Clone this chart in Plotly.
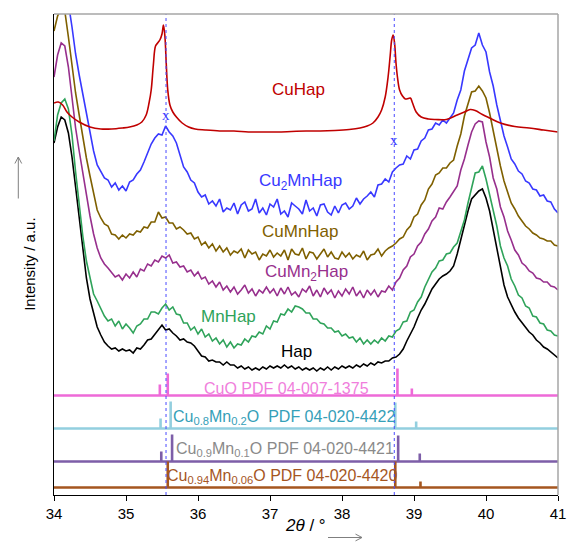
import plotly.graph_objects as go

# ---------------- data ----------------
# common 2theta grid for the measured patterns (0.05 deg step)
two_theta = [round(34 + 0.05 * i, 2) for i in range(141)]

hap = [352, 368, 378, 375, 362, 338, 308, 276, 243, 217, 196, 181, 168, 160, 153, 149, 146, 147, 144, 146,
       144, 145, 142, 147, 146, 150, 155, 156, 161, 165, 170, 165, 166, 162, 159, 155, 156, 153, 152, 149,
       144, 139, 138, 134, 135, 133, 133, 130, 133, 130, 130, 127, 129, 126, 128, 125, 127, 125, 128, 126,
       129, 127, 129, 127, 130, 127, 129, 126, 128, 125, 127, 125, 127, 124, 127, 125, 128, 125, 128, 126,
       129, 127, 129, 127, 130, 128, 131, 129, 132, 130, 133, 132, 134, 134, 137, 138, 141, 146, 154, 161,
       168, 177, 185, 191, 199, 206, 211, 216, 219, 221, 224, 229, 241, 256, 270, 284, 296, 300, 304, 306,
       297, 284, 266, 249, 229, 210, 198, 190, 183, 177, 172, 167, 163, 160, 155, 152, 148, 146, 143, 140,
       137]

mnhap = [354, 380, 392, 396, 386, 360, 323, 290, 259, 234, 219, 201, 194, 186, 179, 174, 176, 169, 174, 166,
         171, 167, 162, 169, 171, 176, 176, 183, 183, 181, 187, 191, 185, 188, 181, 180, 172, 172, 165, 168,
         161, 166, 158, 161, 154, 157, 151, 155, 148, 153, 147, 151, 150, 156, 153, 159, 158, 163, 161, 169,
         166, 174, 173, 181, 180, 186, 183, 189, 188, 186, 182, 182, 176, 176, 172, 171, 167, 167, 163, 164,
         159, 161, 157, 158, 153, 157, 151, 155, 151, 155, 152, 157, 154, 159, 158, 164, 166, 173, 174, 183,
         185, 193, 198, 208, 215, 223, 227, 234, 235, 241, 242, 248, 252, 264, 275, 292, 308, 322, 323, 329,
         316, 301, 284, 269, 249, 237, 229, 216, 209, 200, 197, 189, 187, 179, 178, 172, 171, 165, 164, 160,
         159]

cumn2hap = [418, 440, 452, 449, 428, 398, 367, 344, 322, 297, 279, 261, 247, 237, 231, 227, 223, 218, 220, 215,
            221, 217, 223, 218, 226, 224, 231, 229, 235, 233, 239, 237, 240, 232, 233, 228, 229, 223, 225, 219,
            223, 216, 218, 211, 214, 208, 213, 205, 209, 203, 208, 201, 205, 210, 202, 206, 199, 205, 202, 208,
            202, 206, 199, 207, 201, 208, 200, 203, 198, 206, 203, 209, 199, 205, 198, 207, 201, 205, 197, 204,
            199, 206, 201, 208, 199, 204, 197, 205, 200, 205, 198, 204, 203, 209, 205, 213, 217, 225, 229, 238,
            241, 249, 253, 261, 266, 274, 278, 287, 286, 293, 298, 304, 309, 325, 336, 350, 363, 371, 374, 373,
            353, 338, 317, 306, 288, 278, 264, 255, 245, 240, 232, 229, 224, 222, 217, 216, 213, 213, 209, 208,
            205]

cumnhap = [464, 479, 486, 484, 458, 428, 402, 380, 358, 337, 319, 301, 285, 277, 271, 269, 261, 260, 256, 260,
           257, 261, 260, 264, 263, 268, 267, 273, 273, 283, 277, 278, 272, 272, 266, 268, 265, 261, 262, 256,
           258, 250, 253, 247, 251, 244, 249, 243, 247, 240, 244, 242, 246, 237, 245, 241, 243, 235, 241, 239,
           245, 238, 242, 239, 245, 235, 246, 241, 240, 247, 236, 243, 242, 236, 241, 246, 238, 243, 237, 236,
           243, 238, 242, 236, 240, 238, 244, 235, 240, 241, 246, 239, 244, 247, 249, 252, 256, 258, 265, 269,
           278, 281, 290, 295, 306, 311, 320, 322, 327, 327, 332, 335, 349, 361, 379, 391, 403, 404, 409, 404,
           397, 382, 364, 346, 329, 314, 303, 292, 286, 279, 274, 269, 266, 262, 260, 257, 256, 254, 254, 250,
           249]

cu2mnhap = [560, 548, 530, 512, 492, 468, 441, 420, 401, 384, 362, 344, 330, 323, 317, 315, 308, 312, 305, 309,
            304, 313, 315, 321, 325, 333, 342, 351, 357, 361, 360, 369, 363, 359, 352, 340, 328, 323, 315, 312,
            303, 298, 300, 291, 294, 289, 296, 283, 287, 285, 292, 281, 290, 293, 284, 286, 296, 282, 287, 280,
            291, 288, 296, 281, 284, 278, 292, 289, 286, 281, 295, 284, 287, 279, 290, 291, 283, 280, 289, 282,
            290, 292, 286, 289, 297, 291, 296, 299, 303, 298, 310, 311, 316, 313, 323, 327, 330, 331, 339, 336,
            345, 346, 354, 357, 365, 366, 372, 370, 375, 372, 377, 382, 395, 405, 424, 435, 447, 450, 462, 450,
            443, 423, 409, 390, 375, 359, 348, 336, 331, 324, 321, 314, 312, 306, 305, 299, 300, 294, 293, 286,
            282]

cuhap_x = [34.0, 34.06, 34.12, 34.18, 34.25, 34.35, 34.5, 34.65, 34.8, 34.95, 35.05, 35.15, 35.22, 35.28, 35.32,
           35.35, 35.38, 35.41, 35.44, 35.47, 35.5, 35.52, 35.54, 35.56, 35.58, 35.61, 35.65, 35.7, 35.78, 35.87,
           35.96, 36.1, 36.3, 36.5, 36.7, 36.9, 37.1, 37.3, 37.5, 37.7, 37.9, 38.1, 38.25, 38.35, 38.43, 38.5,
           38.55, 38.6, 38.64, 38.67, 38.69, 38.71, 38.73, 38.75, 38.77, 38.8, 38.84, 38.88, 38.92, 38.95, 38.98,
           39.03, 39.1, 39.2, 39.3, 39.45, 39.6, 39.7, 39.78, 39.85, 39.95, 40.05, 40.2, 40.4, 40.6, 40.8, 41.0]
cuhap = [392, 393, 390, 383, 378, 373, 368, 366, 366, 367, 368, 370, 373, 380, 392, 405, 430, 449, 452, 455,
         461, 470, 459, 430, 405, 390, 383, 378, 372, 368, 366, 365, 364, 364, 363, 363, 363, 363.5, 364, 364,
         364.5, 365.5, 367, 369, 372, 378, 385, 398, 418, 440, 455, 460, 452, 432, 418, 405, 399, 396, 396.5, 397,
         392, 383, 378, 376, 375.5, 375.5, 380, 383, 385.5, 384.5, 380.5, 377, 372, 368.5, 367, 365, 363]

# reference patterns (stick positions, stick heights, baseline offset)
cuo_pos, cuo_h, cuo_base = [35.47, 35.58, 38.77, 38.97], [11, 22, 27, 7], 99.5
m08_pos, m08_h, m08_base = [35.48, 35.62, 38.74, 39.03], [10, 27, 26, 7], 66.5
m09_pos, m09_h, m09_base = [35.49, 35.64, 38.78, 39.08], [10, 27, 26, 8], 33.5
m094_pos, m094_h, m094_base = [35.58, 38.74, 39.09], [26, 26, 6], 7.5

marker_lines = [35.556, 38.726]
marker_y = [380, 355]

x_ticks = [34, 35, 36, 37, 38, 39, 40, 41]

# ---------------- figure ----------------
FONT = "Liberation Sans, Arial, sans-serif"
fig = go.Figure()


def sticks(pos, h, base):
    xs, ys = [34.0], [base]
    for p, hh in zip(pos, h):
        xs += [p, p, p]
        ys += [base, base + hh, base]
    xs.append(41.0)
    ys.append(base)
    return xs, ys


for pos, h, base, col in [(cuo_pos, cuo_h, cuo_base, "#ee6ad8"),
                          (m08_pos, m08_h, m08_base, "#93cfdf"),
                          (m09_pos, m09_h, m09_base, "#7d5ea8"),
                          (m094_pos, m094_h, m094_base, "#a5561f")]:
    xs, ys = sticks(pos, h, base)
    fig.add_trace(go.Scatter(x=xs, y=ys, mode="lines", line=dict(color=col, width=2.6),
                             hoverinfo="skip", showlegend=False))

for ys, col in [(hap, "#000000"), (mnhap, "#2fa35a"), (cumn2hap, "#972f8d"),
                (cumnhap, "#7f6000"), (cu2mnhap, "#3838ff")]:
    fig.add_trace(go.Scatter(x=two_theta, y=ys, mode="lines", line=dict(color=col, width=1.6),
                             showlegend=False))
fig.add_trace(go.Scatter(x=cuhap_x, y=cuhap, mode="lines", line=dict(color="#c00000", width=1.6),
                         line_shape="spline", showlegend=False))

labels = [
    ("CuHap", 37.40, 405.5, "#c00000", 17),
    ("Cu<sub>2</sub>MnHap", 37.43, 313.5, "#3838ff", 17),
    ("CuMnHap", 37.42, 263.5, "#7f6000", 17),
    ("CuMn<sub>2</sub>Hap", 37.50, 222, "#972f8d", 17),
    ("MnHap", 36.43, 178.5, "#2fa35a", 17),
    ("Hap", 37.37, 143.5, "#000000", 17),
    ("CuO PDF 04-007-1375", 37.23, 107, "#f07edc", 16),
    ("Cu<sub>0.8</sub>Mn<sub>0.2</sub>O  PDF 04-020-4422", 37.20, 78, "#35a0b8", 16),
    ("Cu<sub>0.9</sub>Mn<sub>0.1</sub>O PDF 04-020-4421", 37.21, 46, "#8a8a8a", 16),
    ("Cu<sub>0.94</sub>Mn<sub>0.06</sub>O PDF 04-020-4420", 37.17, 18.5, "#a5561f", 16),
]
for txt, x, y, col, sz in labels:
    fig.add_annotation(x=x, y=y, text=txt, showarrow=False, xanchor="center", yanchor="middle",
                       font=dict(family=FONT, size=sz, color=col))

for x, y in zip(marker_lines, marker_y):
    fig.add_shape(type="line", x0=x, x1=x, y0=0, y1=1, yref="paper",
                  line=dict(color="#4a4aff", width=1, dash="dot"), layer="above")
    fig.add_annotation(x=x, y=y, text="x", showarrow=False,
                       font=dict(family="Liberation Serif, Times New Roman, serif", size=15, color="#4040ff"))

# plot frame (top/right grey)
fig.add_shape(type="line", xref="paper", yref="paper", x0=0, x1=1, y0=1, y1=1,
              line=dict(color="#a6a6a6", width=1.5))
fig.add_shape(type="line", xref="paper", yref="paper", x0=1, x1=1, y0=0, y1=1,
              line=dict(color="#a6a6a6", width=1.5))

# pixel -> paper helpers for the outer decorations
L, R, T, B = 54, 558, 14, 495


def xp(px):
    return (px - L) / (R - L)


def yp(py):
    return (B - py) / (B - T)


arrow_col = "#7f7f7f"
# y-axis arrow
fig.add_shape(type="line", xref="paper", yref="paper", x0=xp(18.3), x1=xp(18.3), y0=yp(198.5), y1=yp(157),
              line=dict(color=arrow_col, width=1))
for dx in (-3.4, 3.4):
    fig.add_shape(type="line", xref="paper", yref="paper", x0=xp(18.3), x1=xp(18.3 + dx),
                  y0=yp(157), y1=yp(163.5), line=dict(color=arrow_col, width=1))
# x-axis arrow
fig.add_shape(type="line", xref="paper", yref="paper", x0=xp(328), x1=xp(362), y0=yp(537.5), y1=yp(537.5),
              line=dict(color=arrow_col, width=1))
for dy in (-3.4, 3.4):
    fig.add_shape(type="line", xref="paper", yref="paper", x0=xp(362), x1=xp(355.5),
                  y0=yp(537.5), y1=yp(537.5 + dy), line=dict(color=arrow_col, width=1))

fig.add_annotation(xref="paper", yref="paper", x=xp(18.3), y=yp(264), text="Intensity / a.u.",
                   textangle=-90, showarrow=False, font=dict(family=FONT, size=15, color="#000000"))
fig.add_annotation(xref="paper", yref="paper", x=xp(305), y=yp(536.5), text="<i>2θ</i> / °",
                   showarrow=False, font=dict(family=FONT, size=17, color="#000000"))

fig.update_layout(
    width=567, height=545,
    margin=dict(l=L, r=567 - R, t=T, b=545 - B, autoexpand=False),
    paper_bgcolor="white", plot_bgcolor="white",
    xaxis=dict(range=[34, 41], tickvals=x_ticks, ticktext=[str(t) for t in x_ticks],
               ticks="outside", ticklen=5, tickcolor="black", tickwidth=1, automargin=False,
               showline=True, linecolor="black", linewidth=1, showgrid=False, zeroline=False,
               tickfont=dict(family=FONT, size=15, color="black")),
    yaxis=dict(range=[0, 481], showticklabels=False, ticks="", showline=True, linecolor="black",
               linewidth=1, showgrid=False, zeroline=False, automargin=False),
)

fig.write_html("out.html")
